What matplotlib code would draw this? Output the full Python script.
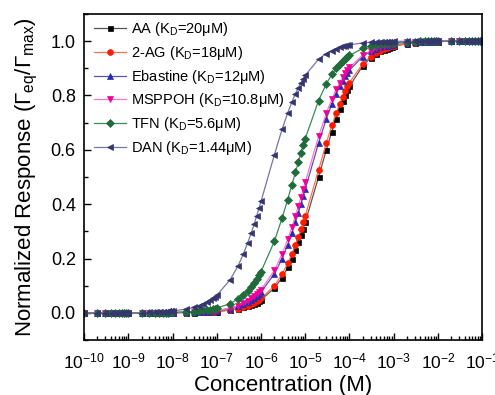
import matplotlib
matplotlib.use("Agg")
import matplotlib.pyplot as plt
from matplotlib.ticker import LogLocator, MultipleLocator, NullFormatter, FormatStrFormatter

plt.rcParams["font.family"] = ["Liberation Sans", "DejaVu Sans"]
plt.rcParams["mathtext.fontset"] = "custom"
plt.rcParams["mathtext.rm"] = "Liberation Sans"
plt.rcParams["mathtext.it"] = "Liberation Sans:italic"

# concentration grid (M), 1..9 per decade
conc = [
    1e-10, 2e-10, 3e-10, 4e-10, 5e-10, 6e-10, 7e-10, 8e-10, 9e-10,
    1e-9, 2e-9, 3e-9, 4e-9, 5e-9, 6e-9, 7e-9, 8e-9, 9e-9,
    1e-8, 2e-8, 3e-8, 4e-8, 5e-8, 6e-8, 7e-8, 8e-8, 9e-8,
    1e-7, 2e-7, 3e-7, 4e-7, 5e-7, 6e-7, 7e-7, 8e-7, 9e-7,
    1e-6, 2e-6, 3e-6, 4e-6, 5e-6, 6e-6, 7e-6, 8e-6, 9e-6,
    1e-5, 2e-5, 3e-5, 4e-5, 5e-5, 6e-5, 7e-5, 8e-5, 9e-5,
    1e-4, 2e-4, 3e-4, 4e-4, 5e-4, 6e-4, 7e-4, 8e-4, 9e-4,
    1e-3, 2e-3, 3e-3, 4e-3, 5e-3, 6e-3, 7e-3, 8e-3, 9e-3,
    1e-2, 2e-2, 3e-2, 4e-2, 5e-2, 6e-2, 7e-2, 8e-2, 9e-2,
    1e-1,
]

resp_aa = [
    0, 0, 0, 0, 0, 0, 0, 0, 0,
    0, 0, 0, 0, 0, 0, 0, 0, 0,
    0.001, 0.001, 0.001, 0.002, 0.002, 0.003, 0.003, 0.004, 0.004,
    0.005, 0.010, 0.015, 0.020, 0.024, 0.029, 0.034, 0.038, 0.043,
    0.048, 0.091, 0.130, 0.167, 0.200, 0.231, 0.259, 0.286, 0.310,
    0.333, 0.500, 0.600, 0.667, 0.714, 0.750, 0.778, 0.800, 0.818,
    0.833, 0.909, 0.938, 0.952, 0.962, 0.968, 0.972, 0.976, 0.978,
    0.980, 0.990, 0.993, 0.995, 0.996, 0.997, 0.997, 0.998, 0.998,
    0.998, 0.999, 0.999, 0.999, 1.000, 1.000, 1.000, 1.000, 1.000,
    1.000,
]

resp_2ag = [
    0, 0, 0, 0, 0, 0, 0, 0, 0,
    0, 0, 0, 0, 0, 0, 0, 0, 0,
    0.001, 0.001, 0.002, 0.002, 0.003, 0.003, 0.004, 0.004, 0.005,
    0.006, 0.011, 0.016, 0.022, 0.027, 0.032, 0.037, 0.043, 0.048,
    0.053, 0.100, 0.143, 0.182, 0.217, 0.250, 0.280, 0.308, 0.333,
    0.357, 0.526, 0.625, 0.690, 0.735, 0.769, 0.795, 0.816, 0.833,
    0.847, 0.917, 0.943, 0.957, 0.965, 0.971, 0.975, 0.978, 0.980,
    0.982, 0.991, 0.994, 0.996, 0.996, 0.997, 0.997, 0.998, 0.998,
    0.998, 0.999, 0.999, 1.000, 1.000, 1.000, 1.000, 1.000, 1.000,
    1.000,
]

resp_ebastine = [
    0, 0, 0, 0, 0, 0, 0, 0, 0,
    0, 0, 0, 0, 0, 0, 0.001, 0.001, 0.001,
    0.001, 0.002, 0.002, 0.003, 0.004, 0.005, 0.006, 0.007, 0.007,
    0.008, 0.016, 0.024, 0.032, 0.040, 0.048, 0.055, 0.062, 0.070,
    0.077, 0.143, 0.200, 0.250, 0.294, 0.333, 0.368, 0.400, 0.429,
    0.455, 0.625, 0.714, 0.769, 0.806, 0.833, 0.854, 0.870, 0.882,
    0.893, 0.943, 0.962, 0.971, 0.977, 0.980, 0.983, 0.985, 0.987,
    0.988, 0.994, 0.996, 0.997, 0.998, 0.998, 0.998, 0.998, 0.999,
    0.999, 0.999, 1.000, 1.000, 1.000, 1.000, 1.000, 1.000, 1.000,
    1.000,
]

resp_msppoh = [
    0, 0, 0, 0, 0, 0, 0, 0, 0,
    0, 0, 0, 0, 0, 0.001, 0.001, 0.001, 0.001,
    0.001, 0.002, 0.003, 0.004, 0.005, 0.006, 0.006, 0.007, 0.008,
    0.009, 0.018, 0.027, 0.036, 0.044, 0.053, 0.061, 0.069, 0.077,
    0.085, 0.156, 0.217, 0.270, 0.316, 0.357, 0.393, 0.426, 0.455,
    0.481, 0.649, 0.735, 0.787, 0.822, 0.847, 0.866, 0.881, 0.893,
    0.903, 0.949, 0.965, 0.974, 0.979, 0.982, 0.985, 0.987, 0.988,
    0.989, 0.995, 0.996, 0.997, 0.998, 0.998, 0.998, 0.999, 0.999,
    0.999, 0.999, 1.000, 1.000, 1.000, 1.000, 1.000, 1.000, 1.000,
    1.000,
]

resp_tfn = [
    0, 0, 0, 0, 0, 0, 0, 0, 0,
    0, 0, 0.001, 0.001, 0.001, 0.001, 0.001, 0.001, 0.002,
    0.002, 0.004, 0.005, 0.007, 0.009, 0.011, 0.012, 0.014, 0.016,
    0.018, 0.034, 0.051, 0.067, 0.082, 0.097, 0.111, 0.125, 0.138,
    0.152, 0.263, 0.349, 0.417, 0.472, 0.517, 0.556, 0.588, 0.616,
    0.641, 0.781, 0.843, 0.877, 0.899, 0.915, 0.926, 0.935, 0.941,
    0.947, 0.973, 0.982, 0.986, 0.989, 0.991, 0.992, 0.993, 0.994,
    0.994, 0.997, 0.998, 0.999, 0.999, 0.999, 0.999, 0.999, 0.999,
    0.999, 1.000, 1.000, 1.000, 1.000, 1.000, 1.000, 1.000, 1.000,
    1.000,
]

resp_dan = [
    0, 0, 0, 0, 0, 0, 0, 0.001, 0.001,
    0.001, 0.001, 0.002, 0.003, 0.003, 0.004, 0.005, 0.006, 0.006,
    0.007, 0.014, 0.020, 0.027, 0.034, 0.040, 0.046, 0.053, 0.059,
    0.065, 0.122, 0.172, 0.217, 0.258, 0.294, 0.327, 0.357, 0.385,
    0.410, 0.581, 0.676, 0.735, 0.776, 0.806, 0.829, 0.847, 0.862,
    0.874, 0.933, 0.954, 0.965, 0.972, 0.977, 0.980, 0.982, 0.984,
    0.986, 0.993, 0.995, 0.996, 0.997, 0.998, 0.998, 0.998, 0.998,
    0.999, 0.999, 1.000, 1.000, 1.000, 1.000, 1.000, 1.000, 1.000,
    1.000, 1.000, 1.000, 1.000, 1.000, 1.000, 1.000, 1.000, 1.000,
    1.000,
]

labels = [
    r"AA (K$_\mathrm{D}$=20μM)",
    r"2-AG (K$_\mathrm{D}$=18μM)",
    r"Ebastine (K$_\mathrm{D}$=12μM)",
    r"MSPPOH (K$_\mathrm{D}$=10.8μM)",
    r"TFN (K$_\mathrm{D}$=5.6μM)",
    r"DAN (K$_\mathrm{D}$=1.44μM)",
]
series = [resp_aa, resp_2ag, resp_ebastine, resp_msppoh, resp_tfn, resp_dan]

# (marker, marker colour, line colour)
styles = [
    ("s", "#000000", "#555555"),
    ("o", "#ff1a00", "#ff7050"),
    ("^", "#2a2ab0", "#5555bb"),
    ("v", "#ee0099", "#ff77cc"),
    ("D", "#1f6b3a", "#3a8a5a"),
    ("<", "#353570", "#77779f"),
]

fig = plt.figure(figsize=(4.95, 3.95), dpi=100)
ax = fig.add_axes([0.170, 0.139, 0.804, 0.826])

for y, lab, (mk, mc, lc) in zip(series, labels, styles):
    ms = 3.6 if mk in ("s", "D") else 4.2
    ax.plot(conc, y, color=lc, lw=0.9, marker=mk, ms=ms,
            mfc=mc, mec=mc, mew=0.5, label=lab)

ax.set_xscale("log")
ax.set_xlim(1e-10, 1e-1)
ax.set_ylim(-0.1, 1.1)
ax.xaxis.set_major_locator(LogLocator(base=10, numticks=15))
ax.xaxis.set_minor_locator(LogLocator(base=10, subs=range(2, 10), numticks=15))
ax.xaxis.set_minor_formatter(NullFormatter())
ax.yaxis.set_major_locator(MultipleLocator(0.2))
ax.yaxis.set_minor_locator(MultipleLocator(0.1))
ax.yaxis.set_major_formatter(FormatStrFormatter("%.1f"))

ax.tick_params(which="both", direction="in", top=False, right=False, width=1.0)
ax.tick_params(which="major", length=5)
ax.tick_params(which="minor", length=3)
ax.tick_params(axis="x", which="major", labelsize=12.5, pad=8)
ax.tick_params(axis="y", which="major", labelsize=13, pad=6)
for sp in ax.spines.values():
    sp.set_linewidth(1.2)

ax.set_xlabel("Concentration (M)", fontsize=16, labelpad=3)
ax.set_ylabel(r"Normalized Response ($\Gamma_{\mathrm{eq}}/\Gamma_{\mathrm{max}}$)",
              fontsize=16, labelpad=8)

ax.legend(loc="upper left", frameon=False, fontsize=10.5, handlelength=2.2,
          handletextpad=0.3, labelspacing=0.39, borderpad=0.0, borderaxespad=0.0,
          bbox_to_anchor=(0.025, 0.98))

fig.savefig("out.png", dpi=100)
